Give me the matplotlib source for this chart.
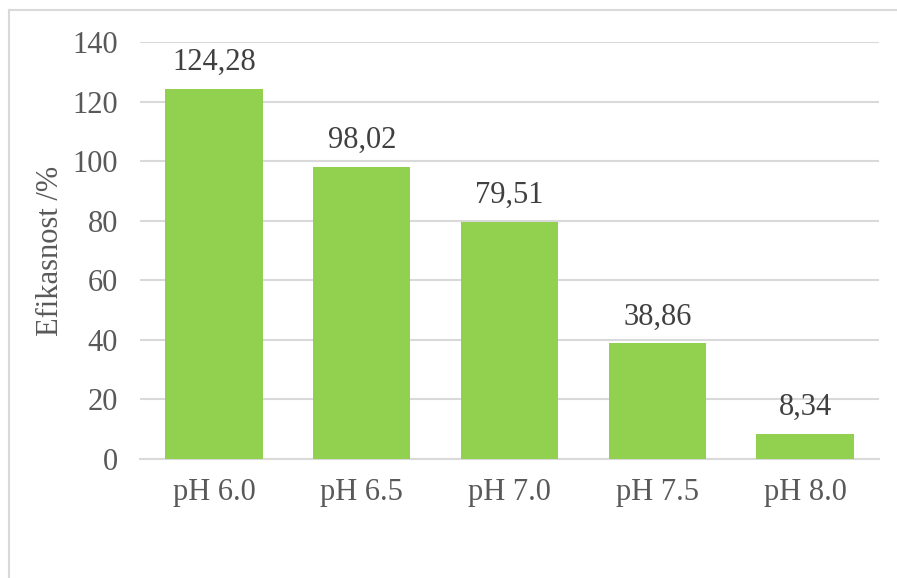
import matplotlib
matplotlib.use('Agg')
import matplotlib.pyplot as plt
from matplotlib.lines import Line2D

categories = ['pH 6.0', 'pH 6.5', 'pH 7.0', 'pH 7.5', 'pH 8.0']
values = [124.28, 98.02, 79.51, 38.86, 8.34]
labels = ['124,28', '98,02', '79,51', '38,86', '8,34']

plt.rcParams['font.family'] = ['Liberation Serif', 'DejaVu Serif']

fig = plt.figure(figsize=(8.97, 5.78), dpi=100, facecolor='white')
ax = fig.add_axes([140 / 897, 1 - 459 / 578, 739 / 897, 417 / 578])

x = range(len(categories))
bars = ax.bar(x, values, width=0.66, color='#92D050', zorder=3)
for b, lab in zip(bars, labels):
    ax.text(b.get_x() + b.get_width() / 2, b.get_height() + 4, lab,
            ha='center', va='bottom', fontsize=22, color='#404040')

ax.set_xlim(-0.5, len(categories) - 0.5)
ax.set_ylim(0, 140)
ax.set_yticks(range(0, 141, 20))
ax.set_xticks(list(x))
ax.set_xticklabels(categories)
ax.tick_params(axis='both', length=0, labelsize=22, labelcolor='#595959')
ax.tick_params(axis='y', pad=16)
ax.tick_params(axis='x', pad=14)
ax.grid(axis='y', color='#D9D9D9', linewidth=1.5, zorder=0)
for s in ['top', 'right', 'left']:
    ax.spines[s].set_visible(False)
ax.spines['bottom'].set_color('#D9D9D9')
ax.spines['bottom'].set_linewidth(1.5)
ax.set_ylabel('Efikasnost /%', fontsize=22, color='#595959', labelpad=5)

# outer chart border (left and top only visible)
bc = '#D9D9D9'
fig.add_artist(Line2D([9 / 897, 9 / 897], [0, 1 - 10 / 578], color=bc, lw=1.5, transform=fig.transFigure))
fig.add_artist(Line2D([9 / 897, 1], [1 - 10 / 578, 1 - 10 / 578], color=bc, lw=1.5, transform=fig.transFigure))

fig.savefig('out.png', dpi=100, facecolor='white')
